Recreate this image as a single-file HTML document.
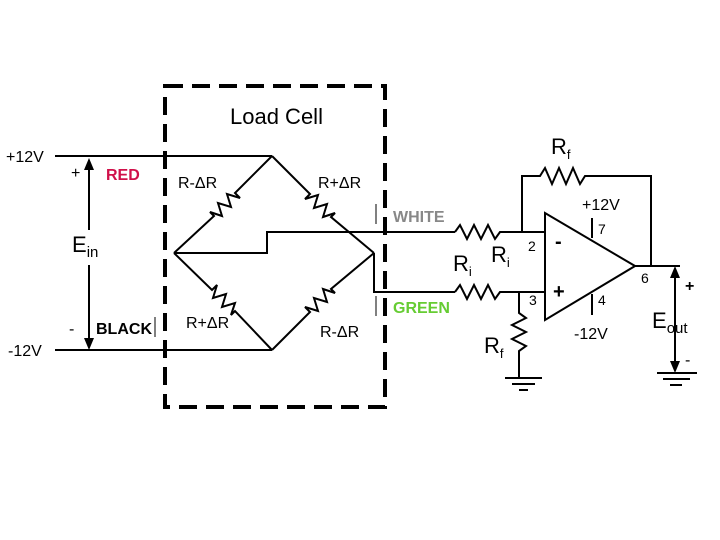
<!DOCTYPE html>
<html><head><meta charset="utf-8"><style>
html,body{margin:0;padding:0;background:#fff;}
svg{display:block;font-family:"Liberation Sans",Arial,sans-serif;}
</style></head><body>
<svg width="720" height="540" viewBox="0 0 720 540">
<rect width="720" height="540" fill="#fff"/>
<g stroke="#000" stroke-width="4" stroke-dasharray="18,9" fill="none">
<rect x="165" y="86" width="220" height="321"/>
</g>
<g stroke="#000" stroke-width="2" fill="none" stroke-linejoin="miter">
<line x1="55" y1="156" x2="272" y2="156"/>
<line x1="55" y1="350" x2="272" y2="350"/>
<polyline points="272,156 235,193 240,198 227,194 231,207 218,203 222,216 210,212 214,216 174,253"/>
<polyline points="272,156 310,194 305,199 318,195 314,208 327,204 323,217 335,213 331,217 374,253"/>
<polyline points="174,253 212,290 217,285 213,298 226,294 222,307 235,303 231,315 235,311 272,350"/>
<polyline points="272,350 310,312 305,307 318,311 314,298 327,302 323,289 335,293 331,289 374,253"/>
<polyline points="174,253 267,253 267,232 455,232"/>
<polyline points="374,253 374,292 455,292"/>
<polyline points="455,232 460,225 467,239 474,225 481,239 488,225 495,239 500,232 545,232"/>
<polyline points="455,292 460,285 467,299 474,285 481,299 488,285 495,299 500,292 545,292"/>
<polyline points="522,232 522,176 540,176 545,168 552,184 559,168 566,184 573,168 580,184 585,176 651,176 651,266"/>
<polygon points="545,213 545,320 635,266"/>
<line x1="635" y1="266" x2="680" y2="266"/>
<line x1="592" y1="218" x2="592" y2="238"/>
<line x1="592" y1="294" x2="592" y2="315"/>
<polyline points="519,292 519,313 526,318 512,325 526,332 512,339 526,346 519,351 519,377"/>
<line x1="505" y1="378" x2="542" y2="378"/>
<line x1="512" y1="384" x2="535" y2="384"/>
<line x1="519" y1="390" x2="528" y2="390"/>
<line x1="675" y1="270" x2="675" y2="370"/>
<line x1="657" y1="373" x2="697" y2="373"/>
<line x1="663" y1="379" x2="690" y2="379"/>
<line x1="670" y1="385" x2="682" y2="385"/>
<line x1="89" y1="162" x2="89" y2="230"/>
<line x1="89" y1="265" x2="89" y2="345"/>
<line x1="155" y1="317" x2="155" y2="337" stroke-width="1"/>
<line x1="376" y1="204" x2="376" y2="224" stroke-width="1"/>
<line x1="376" y1="296" x2="376" y2="316" stroke-width="1"/>
</g>
<g fill="#000">
<polygon points="89,158 84,170 94,170"/>
<polygon points="89,350 84,338 94,338"/>
<polygon points="675,266 670,278 680,278"/>
<polygon points="675,373 670,361 680,361"/>
</g>
<g font-size="16" fill="#000">
<text x="230" y="124" font-size="22">Load Cell</text>
<text x="6" y="162">+12V</text>
<text x="8" y="356">-12V</text>
<text x="71" y="178">+</text>
<text x="69" y="334">-</text>
<text x="72" y="252" font-size="22">E<tspan font-size="15" dy="5">in</tspan></text>
<text x="178" y="188">R-ΔR</text>
<text x="318" y="188">R+ΔR</text>
<text x="186" y="328">R+ΔR</text>
<text x="320" y="337">R-ΔR</text>
<text x="551" y="154" font-size="22">R<tspan font-size="13" dy="5">f</tspan></text>
<text x="453" y="271" font-size="22">R<tspan font-size="13" dy="5">i</tspan></text>
<text x="491" y="262" font-size="22">R<tspan font-size="13" dy="5">i</tspan></text>
<text x="484" y="353" font-size="22">R<tspan font-size="13" dy="5">f</tspan></text>
<text x="582" y="210">+12V</text>
<text x="574" y="339">-12V</text>
<text x="528" y="251" font-size="14">2</text>
<text x="529" y="305" font-size="14">3</text>
<text x="598" y="234" font-size="14">7</text>
<text x="598" y="305" font-size="14">4</text>
<text x="641" y="283" font-size="14">6</text>
<text x="555" y="248" font-size="20" font-weight="bold">-</text>
<text x="553" y="298" font-size="20" font-weight="bold">+</text>
<text x="685" y="291" font-weight="bold">+</text>
<text x="685" y="365">-</text>
<text x="652" y="328" font-size="22">E<tspan font-size="15" dy="5">out</tspan></text>
<text x="106" y="180" fill="#d0104a" font-weight="bold">RED</text>
<text x="96" y="334" font-weight="bold">BLACK</text>
<text x="393" y="222" fill="#888" font-weight="bold">WHITE</text>
<text x="393" y="313" fill="#6c3" font-weight="bold">GREEN</text>
</g>
</svg>
</body></html>
